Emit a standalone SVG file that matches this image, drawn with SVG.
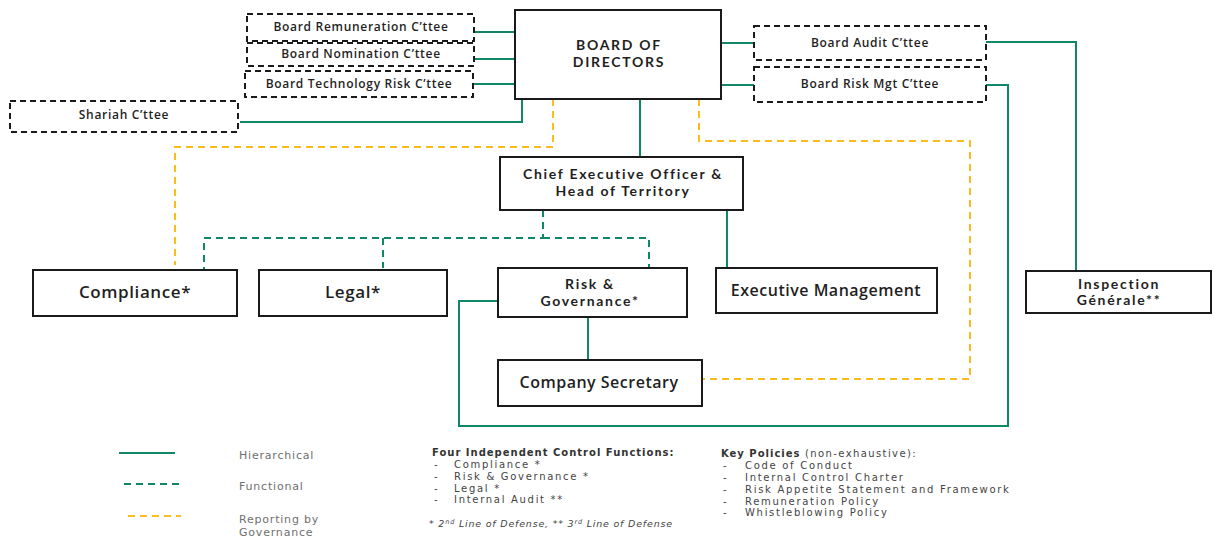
<svg xmlns="http://www.w3.org/2000/svg" width="1216" height="538" viewBox="0 0 1216 538">
<style>
.box{fill:#fff;stroke:#1a1a1a;stroke-width:2}
.dbox{fill:#fff;stroke:#1a1a1a;stroke-width:2;stroke-dasharray:6 4}
.h{fill:none;stroke:#11876a;stroke-width:2}
.f{fill:none;stroke:#11876a;stroke-width:2;stroke-dasharray:7 5}
.r{fill:none;stroke:#fbbd1c;stroke-width:2;stroke-dasharray:7 5}
text{font-family:"Open Sans","Noto Sans","Liberation Sans",sans-serif;fill:#1f1f1f;text-anchor:middle;font-weight:600}
.s{font-size:12px;letter-spacing:0.7px}
.m{font-family:Lato,"Open Sans",sans-serif;font-weight:bold;font-size:14px;letter-spacing:1.7px}
.l{font-size:16px;letter-spacing:0.5px}
.xl{font-size:17px;letter-spacing:0.6px}
.lg{font-family:"DejaVu Sans",sans-serif;font-weight:normal;font-size:11px;fill:#6f6f6f;text-anchor:start;letter-spacing:0.8px}
.n{font-family:"DejaVu Sans",sans-serif;font-weight:normal;font-size:10px;fill:#444;text-anchor:start;letter-spacing:1.7px}
.nb{font-family:"DejaVu Sans",sans-serif;font-size:10px;fill:#333;text-anchor:start;font-weight:bold;letter-spacing:1px}
.fn{font-family:"DejaVu Sans",sans-serif;font-weight:normal;font-style:italic;font-size:9.5px;fill:#444;text-anchor:start;letter-spacing:0.8px}
</style>
<g id="connectors">
<path class="h" d="M474 32H515M474 59H515M473 84H515M240 122H522V99"/>
<path class="h" d="M640 99V157M727 210V268M588 317V360"/>
<path class="h" d="M721 43H754M721 85H754"/>
<path class="h" d="M986 42H1076V271"/>
<path class="h" d="M986 85H1008V426H459V301H498"/>
<path class="f" d="M543 210V238H204V272M383 238V268M543 238H649V268"/>
<path class="r" d="M553 99V147H175V265"/>
<path class="r" d="M699 99V141H970V379H703"/>
</g>
<g id="board-remuneration"><rect class="dbox" x="247" y="14" width="227" height="27"/><text class="s" x="361" y="31">Board Remuneration C’ttee</text></g>
<g id="board-nomination"><rect class="dbox" x="247" y="43" width="227" height="23"/><text class="s" x="361" y="58">Board Nomination  C’ttee</text></g>
<g id="board-technology"><rect class="dbox" x="245" y="71" width="228" height="26"/><text class="s" x="359" y="88">Board Technology Risk  C’ttee</text></g>
<g id="shariah"><rect class="dbox" x="10" y="101" width="228" height="31"/><text class="s" x="124" y="119">Shariah C’ttee</text></g>
<g id="board-of-directors"><rect class="box" x="515" y="10" width="206" height="89"/><text class="m" x="619" y="50">BOARD OF</text><text class="m" x="619" y="67">DIRECTORS</text></g>
<g id="board-audit"><rect class="dbox" x="754" y="26" width="232" height="34"/><text class="s" x="870" y="47">Board Audit C’ttee</text></g>
<g id="board-risk"><rect class="dbox" x="754" y="67" width="232" height="35"/><text class="s" x="870" y="88">Board Risk Mgt C’ttee</text></g>
<g id="ceo"><rect class="box" x="500" y="157" width="243" height="53"/><text class="m" x="623" y="179">Chief Executive Officer &amp;</text><text class="m" x="623" y="196">Head of Territory</text></g>
<g id="compliance"><rect class="box" x="33" y="270" width="204" height="46"/><text class="xl" x="135" y="298">Compliance*</text></g>
<g id="legal"><rect class="box" x="259" y="270" width="188" height="46"/><text class="xl" x="353" y="298">Legal*</text></g>
<g id="risk-governance"><rect class="box" x="498" y="268" width="189" height="49"/><text class="m" x="590" y="289">Risk &amp;</text><text class="m" x="590" y="306">Governance*</text></g>
<g id="executive-management"><rect class="box" x="716" y="268" width="221" height="45"/><text class="l" x="826" y="296">Executive Management</text></g>
<g id="company-secretary"><rect class="box" x="498" y="360" width="204" height="46"/><text class="l" x="599" y="388">Company Secretary</text></g>
<g id="inspection-generale"><rect class="box" x="1026" y="271" width="185" height="42"/><text class="m" x="1119" y="289">Inspection</text><text class="m" x="1119" y="305">Générale**</text></g>
<g id="legend">
<line class="h" x1="119" y1="453" x2="175" y2="453"/>
<line class="f" x1="124" y1="484" x2="179" y2="484" stroke-dasharray="7 8"/>
<line class="r" x1="128" y1="516" x2="181" y2="516" stroke-dasharray="7 8"/>
<text class="lg" x="239" y="459">Hierarchical</text>
<text class="lg" x="239" y="490">Functional</text>
<text class="lg" x="239" y="523">Reporting by</text>
<text class="lg" x="239" y="536">Governance</text>
</g>
<g id="notes">
<text class="nb" x="432" y="456">Four Independent Control Functions:</text>
<text class="n" x="434" y="468">-</text><text class="n" x="454" y="468">Compliance *</text>
<text class="n" x="434" y="480">-</text><text class="n" x="454" y="480">Risk &amp; Governance *</text>
<text class="n" x="434" y="492">-</text><text class="n" x="454" y="492">Legal *</text>
<text class="n" x="434" y="503">-</text><text class="n" x="454" y="503">Internal Audit **</text>
<text class="fn" x="429" y="527">* 2<tspan font-size="6.5" dy="-3">nd</tspan><tspan dy="3"> Line of Defense, ** 3</tspan><tspan font-size="6.5" dy="-3">rd</tspan><tspan dy="3"> Line of Defense</tspan></text>
<text class="nb" x="721" y="457">Key Policies <tspan font-weight="normal" fill="#444" letter-spacing="1.4"> (non-exhaustive):</tspan></text>
<text class="n" x="723" y="469">-</text><text class="n" x="745" y="469">Code of Conduct</text>
<text class="n" x="723" y="481">-</text><text class="n" x="745" y="481">Internal Control Charter</text>
<text class="n" x="723" y="493">-</text><text class="n" x="745" y="493">Risk Appetite Statement and Framework</text>
<text class="n" x="723" y="505">-</text><text class="n" x="745" y="505">Remuneration Policy</text>
<text class="n" x="723" y="516">-</text><text class="n" x="745" y="516">Whistleblowing Policy</text>
</g>
</svg>
